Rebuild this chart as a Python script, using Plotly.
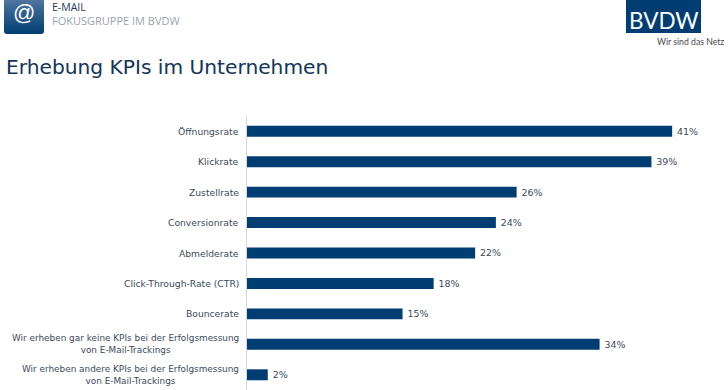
import plotly.graph_objects as go

categories = [
    "Öffnungsrate", "Klickrate", "Zustellrate", "Conversionrate", "Abmelderate",
    "Click-Through-Rate (CTR)", "Bouncerate",
    "Wir erheben gar keine KPIs bei der Erfolgsmessung<br>von E-Mail-Trackings",
    "Wir erheben andere KPIs bei der Erfolgsmessung<br>von E-Mail-Trackings",
]
values = [41, 39, 26, 24, 22, 18, 15, 34, 2]
title = "Erhebung KPIs im Unternehmen"

NAVY = "#003d73"
TEXT = "#3a4a5c"
W, H = 728, 390
FONT = "DejaVu Sans"

fig = go.Figure(go.Bar(
    x=values, y=categories, orientation="h", marker=dict(color=NAVY, line_width=0),
    width=0.36, text=[f"\u2009{v}%" for v in values], textposition="outside",
    textfont=dict(family=FONT, size=9.5, color=TEXT), cliponaxis=False,
))

def note(x, y, text, size, color, family=FONT, anchor="left"):
    return dict(xref="paper", yref="paper", x=x / 481 - 247 / 481, y=(H - y) / 274,
                text=text, showarrow=False, xanchor=anchor, yanchor="middle",
                font=dict(family=family, size=size, color=color), align="left")

anns = [dict(xref="paper", yref="y", x=0, y=c, xshift=-6, text=c, showarrow=False,
             xanchor="right", yanchor="middle", align="center",
             font=dict(family=FONT, size=8.9 if "<br>" in c else 9.2, color=TEXT)) for c in categories]
anns += [
    note(3.5, 67, title, 20.2, "#12355b"),
    note(50, 7, "E-MAIL", 10.5, "#1c3a5e", "Open Sans"),
    note(50, 20, "FOKUSGRUPPE IM BVDW", 11, "#9aa3ad", "Open Sans"),
    note(24, 13, "@", 22, "#ffffff", "Liberation Sans", "center"),
    note(664, 20, "BVDW", 22.5, "#ffffff", "Lato", "center"),
    note(690.5, 41, "Wir sind das Netz", 8.7, "#4a4a4a", "Lato", "center"),
]

svg = ("data:image/svg+xml;utf8,<svg xmlns='http://www.w3.org/2000/svg' width='40' height='34'>"
       "<defs><linearGradient id='g' x1='0' y1='0' x2='0' y2='1'><stop offset='0' stop-color='%235c7fa6'/>"
       "<stop offset='1' stop-color='%23003d73'/></linearGradient></defs>"
       "<rect x='0' y='-6' width='40' height='40' rx='3' fill='url(%23g)'/></svg>")

fig.update_layout(
    width=W, height=H, margin=dict(l=247, r=0, t=116, b=0),
    paper_bgcolor="white", plot_bgcolor="white", showlegend=False,
    xaxis=dict(range=[0, 481 / 10.37], visible=False, fixedrange=True),
    yaxis=dict(autorange="reversed", showticklabels=False, ticks="", showgrid=False,
               showline=True, linecolor="#d5d8dc", linewidth=1, fixedrange=True),
    annotations=anns,
    images=[dict(source=svg, xref="paper", yref="paper", x=(4 - 247) / 481, y=(H - 0) / 274,
                 sizex=40 / 481, sizey=34 / 274, xanchor="left", yanchor="top",
                 sizing="stretch", layer="below")],
    shapes=[dict(type="rect", xref="paper", yref="paper", x0=(626 - 247) / 481, x1=(701 - 247) / 481,
                 y0=(H - 33) / 274, y1=(H - 0) / 274, fillcolor=NAVY, line_width=0, layer="below")],
)
fig.write_html("out.html", post_script="document.body.style.margin='0';document.body.style.overflow='hidden';",
               config={"displayModeBar": False})
